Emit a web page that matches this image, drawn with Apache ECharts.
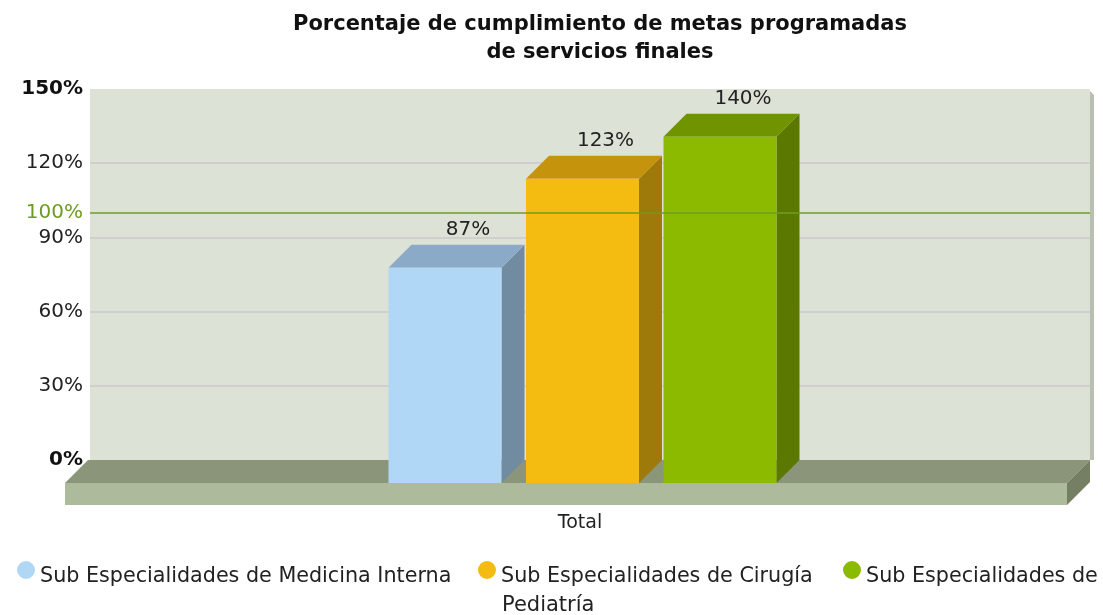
<!DOCTYPE html>
<html>
<head>
<meta charset="utf-8">
<script src="https://cdn.jsdelivr.net/npm/echarts@6/dist/echarts.min.js"></script>
<style>
  html, body { margin: 0; padding: 0; background: #fff; }
  #chart { width: 1103px; height: 615px; }
</style>
</head>
<body>
<div id="chart"></div>
<script>
// data
const categories = ['Total'];
const seriesNames = [
    'Sub Especialidades de Medicina Interna',
    'Sub Especialidades de Cirugía',
    'Sub Especialidades de Pediatría'
];
const medicinaInterna = [87];
const cirugia = [123];
const pediatria = [140];
const yTicks = [0, 30, 60, 90, 120, 150];
const targetValue = [100];

// styles
const FONT = 'DejaVu Sans';
const barColors = [
    { front: '#b0d7f6', top: '#8aaac7', side: '#718ca1' },
    { front: '#f4bb10', top: '#c6940c', side: '#9e7a0a' },
    { front: '#8cba00', top: '#6f9400', side: '#5b7800' }
];
const DEPTH = 23;
const BAR_W = 113;
const PITCH = 137.5;
const SHIFT = -7.5;
// circle sitting in the upper part of a taller box, so the dot rides above the text middle
const LEGEND_DOT = 'path://M0,9 A9,9 0 1,1 18,9 A9,9 0 1,1 0,9 Z M9,32 L9,32 Z';

const chart = echarts.init(document.getElementById('chart'));

function renderBar(params, api) {
    const i = params.seriesIndex;
    const c = barColors[i];
    const base = api.coord([api.value(0), 0]);
    const top = api.coord([api.value(0), api.value(1)]);
    const d = DEPTH;
    const fx = base[0] + SHIFT + (i - 1) * PITCH - BAR_W / 2;
    const fb = base[1] + d;
    const ft = top[1] + d;
    return {
        type: 'group',
        children: [
            { type: 'polygon', shape: { points: [[fx + BAR_W, ft], [fx + BAR_W + d, ft - d], [fx + BAR_W + d, fb - d], [fx + BAR_W, fb]] }, style: { fill: c.side } },
            { type: 'polygon', shape: { points: [[fx, ft], [fx + d, ft - d], [fx + BAR_W + d, ft - d], [fx + BAR_W, ft]] }, style: { fill: c.top } },
            { type: 'rect', shape: { x: fx, y: ft, width: BAR_W, height: fb - ft }, style: { fill: c.front } },
            {
                type: 'text', x: fx + d + BAR_W / 2, y: ft - d - 15,
                style: { text: api.value(1) + '%', fill: '#222', font: '20px "' + FONT + '"', align: 'center', verticalAlign: 'middle' }
            }
        ]
    };
}

function renderFloor(params, api) {
    const cs = params.coordSys;
    const L = cs.x, R = cs.x + cs.width, T = cs.y, B = cs.y + cs.height;
    const d = DEPTH, h = 22;
    return {
        type: 'group',
        children: [
            // thin right edge of the back wall
            { type: 'polygon', shape: { points: [[R, T + 2], [R + 4, T + 6], [R + 4, B], [R, B]] }, style: { fill: '#b9bfb1' } },
            // floor top
            { type: 'polygon', shape: { points: [[L - 2, B], [R, B], [R - d, B + d], [L - 2 - d, B + d]] }, style: { fill: '#8a957a' } },
            // floor front
            { type: 'rect', shape: { x: L - 2 - d, y: B + d, width: R - L + 2, height: h }, style: { fill: '#adba9c' } },
            // floor side
            { type: 'polygon', shape: { points: [[R - d, B + d], [R, B], [R, B + h], [R - d, B + d + h]] }, style: { fill: '#747f64' } }
        ]
    };
}

const barData = [medicinaInterna, cirugia, pediatria];
const legendLeft = [12, 473, 838];

chart.setOption({
    animation: false,
    title: {
        text: 'Porcentaje de cumplimiento de metas programadas\nde servicios finales',
        left: 595,
        textAlign: 'center',
        top: 6,
        textStyle: { fontFamily: FONT, fontSize: 21, fontWeight: 'bold', color: '#111', lineHeight: 28 }
    },
    grid: { left: 90, right: 13, top: 89, bottom: 155, show: true, backgroundColor: '#dde2d6', borderWidth: 0 },
    xAxis: {
        type: 'category',
        data: categories,
        axisLine: { show: false },
        axisTick: { show: false },
        axisLabel: { margin: 54, fontFamily: FONT, fontSize: 19, color: '#222', padding: [0, 20, 0, 0] }
    },
    yAxis: {
        type: 'value',
        min: yTicks[0],
        max: yTicks[yTicks.length - 1],
        interval: 30,
        axisLine: { show: false },
        axisTick: { show: false },
        splitLine: { lineStyle: { color: ['rgba(0,0,0,0)', '#c8cacd', '#c8cacd', '#c8cacd', '#c8cacd', 'rgba(0,0,0,0)'], width: 1.5 } },
        axisLabel: {
            margin: 7,
            fontFamily: FONT,
            fontSize: 20,
            color: '#222',
            formatter: v => (v === 0 || v === 150) ? '{b|' + v + '%}' : v + '%',
            rich: { b: { fontFamily: FONT, fontSize: 20, fontWeight: 'bold', color: '#111' } }
        }
    },
    legend: seriesNames.map((n, i) => ({
        data: [n],
        left: legendLeft[i],
        top: 556,
        icon: LEGEND_DOT,
        itemWidth: 18,
        itemHeight: 32,
        itemGap: 0,
        formatter: i === 2 ? 'Sub Especialidades de' : '{name}',
        textStyle: { fontFamily: FONT, fontSize: 20.7, color: '#222' }
    })),
    graphic: [{
        type: 'text', left: 502, top: 595,
        style: { text: 'Pediatría', font: '21px "' + FONT + '"', fill: '#222' }
    }],
    series: [
        ...barData.map((arr, i) => ({
            name: seriesNames[i],
            type: 'custom',
            renderItem: renderBar,
            itemStyle: { color: barColors[i].front },
            encode: { x: 0, y: 1 },
            data: arr.map((v, k) => [k, v]),
            z: 3
        })),
        {
            type: 'custom',
            renderItem: renderFloor,
            data: [[0, 0]],
            encode: { x: 0, y: 1 },
            silent: true,
            z: 1
        },
        {
            type: 'line',
            data: [],
            markLine: {
                silent: true,
                symbol: 'none',
                data: [{ yAxis: targetValue[0] }],
                lineStyle: { color: '#6f9c20', width: 1.5, type: 'solid' },
                label: { position: 'start', distance: 7, formatter: targetValue[0] + '%', color: '#6f9c20', fontFamily: FONT, fontSize: 20 }
            },
            z: 10
        }
    ]
});
</script>
</body>
</html>
